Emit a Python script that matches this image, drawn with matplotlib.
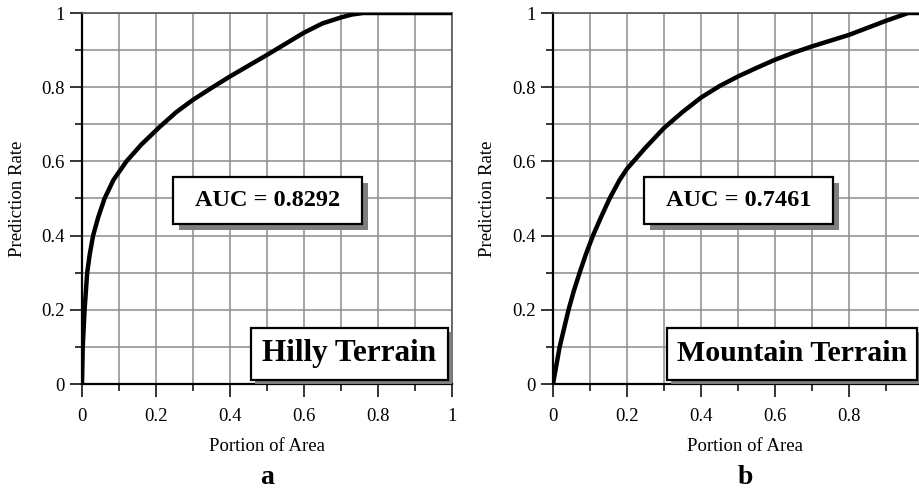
import numpy as np
import matplotlib
matplotlib.use('Agg')
import matplotlib.pyplot as plt
from matplotlib.patches import Rectangle
from matplotlib.ticker import MultipleLocator

##########################
# data
##########################
# a) Hilly terrain
hilly_x = [0.0, 0.002, 0.007, 0.014, 0.021, 0.03, 0.044, 0.061, 0.085, 0.12, 0.16, 0.21, 0.255,
           0.30, 0.35, 0.40, 0.45, 0.50, 0.55, 0.60, 0.65, 0.70, 0.73, 0.76, 1.0]
hilly_y = [0.0, 0.10, 0.20, 0.30, 0.35, 0.40, 0.45, 0.50, 0.55, 0.60, 0.645, 0.693, 0.733,
           0.766, 0.798, 0.829, 0.858, 0.887, 0.917, 0.947, 0.972, 0.988, 0.996, 1.0, 1.0]
hilly_auc = "AUC = 0.8292"
hilly_name = "Hilly Terrain"
# b) Mountain terrain
mount_x = [0.0, 0.018, 0.03, 0.042, 0.056, 0.072, 0.089, 0.108, 0.13, 0.153, 0.18, 0.20, 0.25,
           0.30, 0.35, 0.40, 0.45, 0.50, 0.55, 0.60, 0.65, 0.70, 0.80, 0.85, 0.90, 0.96, 1.0]
mount_y = [0.0, 0.10, 0.15, 0.20, 0.25, 0.30, 0.35, 0.40, 0.45, 0.50, 0.55, 0.58, 0.637,
           0.69, 0.733, 0.772, 0.803, 0.829, 0.852, 0.874, 0.893, 0.91, 0.941, 0.96, 0.979, 1.0, 1.0]
mount_auc = "AUC = 0.7461"
mount_name = "Mountain Terrain"

tick_vals = [0, 0.2, 0.4, 0.6, 0.8, 1.0]
tick_labels_a = ['0', '0.2', '0.4', '0.6', '0.8', '1']
tick_labels_b = ['0', '0.2', '0.4', '0.6', '0.8', '']   # "1" falls off the page in panel b

###############
# style
###############
plt.rcParams.update({'font.family': 'Liberation Serif',
                     'font.size': 13.5})

W, H = 920., 494.
fig = plt.figure(figsize=(W/100., H/100.), dpi=100)

def px_axes(left, top, w, h):
    return fig.add_axes([left/W, 1-(top+h)/H, w/W, h/H])

def box(ax, x0, y0, x1, y1, shadow, text, fs):
    dx = shadow/370.
    ax.add_patch(Rectangle((x0+dx, y0-dx), x1-x0, y1-y0, transform=ax.transAxes,
                           fc='#7f7f7f', ec='none', zorder=5, clip_on=False))
    ax.add_patch(Rectangle((x0, y0), x1-x0, y1-y0, transform=ax.transAxes,
                           fc='white', ec='black', lw=1.6, zorder=6, clip_on=False))
    ax.text((x0+x1)/2., (y0+y1)/2., text, transform=ax.transAxes, ha='center', va='center',
            fontsize=fs, fontweight='bold', zorder=7)

def panel(ax, x, y, xlabels, auc, name, name_box, name_fs):
    ax.plot(x, y, color='black', lw=3.2, zorder=4, solid_capstyle='round', solid_joinstyle='round')
    ax.set_xlim(0, 1)
    ax.set_ylim(0, 1)
    ax.set_xticks(tick_vals)
    ax.set_xticklabels(xlabels)
    ax.set_yticks(tick_vals)
    ax.set_yticklabels(tick_labels_a)
    ax.xaxis.set_minor_locator(MultipleLocator(0.1))
    ax.yaxis.set_minor_locator(MultipleLocator(0.1))
    ax.grid(which='both', color='#8c8c8c', lw=1.1, zorder=1)
    ax.set_axisbelow(True)
    ax.tick_params(which='major', direction='out', length=9, width=1.1, color='black')
    ax.tick_params(which='minor', direction='out', length=5, width=1.1, color='black')
    ax.tick_params(axis='x', pad=8)
    ax.tick_params(axis='y', pad=3.5)
    for s in ['left', 'bottom']:
        ax.spines[s].set_linewidth(1.6)
        ax.spines[s].set_color('black')
    for s in ['top', 'right']:
        ax.spines[s].set_linewidth(1.2)
        ax.spines[s].set_color('#555555')
    box(ax, 0.245, 0.431, 0.757, 0.557, 6, auc, 17.5)
    box(ax, name_box[0], 0.011, name_box[1], 0.151, 4, name, name_fs)

ax1 = px_axes(82, 13, 370, 371)
panel(ax1, hilly_x, hilly_y, tick_labels_a, hilly_auc, hilly_name, (0.457, 0.989), 22.5)
ax2 = px_axes(553, 13, 370, 371)
panel(ax2, mount_x, mount_y, tick_labels_b, mount_auc, mount_name, (0.308, 0.984), 21.5)

# axis labels and panel letters
fig.text(267/W, 1-446/H, 'Portion of Area', ha='center', va='center')
fig.text(745/W, 1-446/H, 'Portion of Area', ha='center', va='center')
fig.text(18/W, 1-199/H, 'Prediction Rate', ha='center', va='center', rotation=90)
fig.text(488/W, 1-199/H, 'Prediction Rate', ha='center', va='center', rotation=90)
fig.text(267/W, 1-477/H, 'a', ha='center', va='center', fontsize=20, fontweight='bold')
fig.text(745/W, 1-477/H, 'b', ha='center', va='center', fontsize=20, fontweight='bold')

fig.savefig('out.png', dpi=100)
